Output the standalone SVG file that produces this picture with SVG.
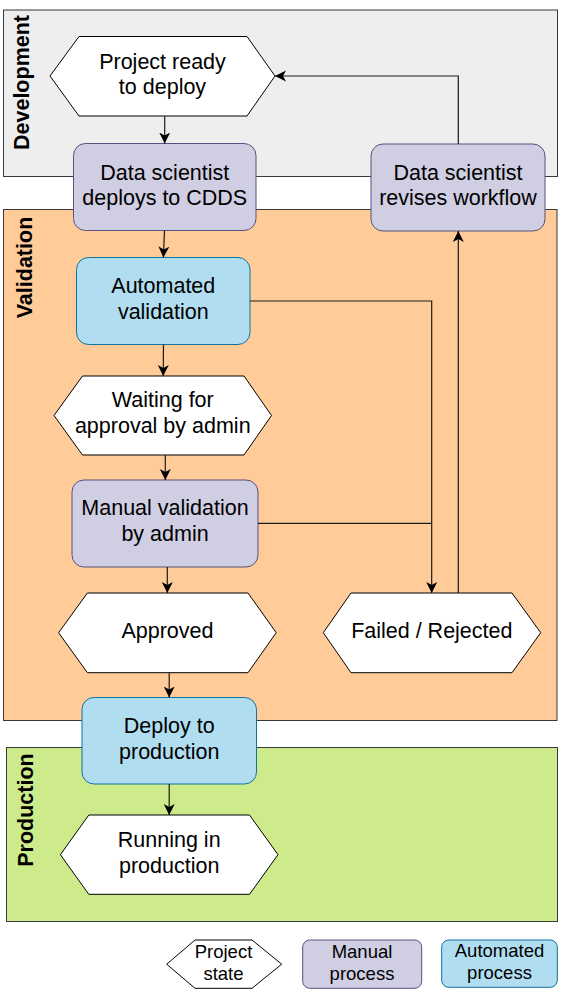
<svg xmlns="http://www.w3.org/2000/svg" width="564" height="996" viewBox="0 0 564 996">
<defs>
<style>
text{font-family:"Liberation Sans",Arial,Helvetica,sans-serif;fill:#000;text-anchor:middle}
.t{font-size:21.5px}
.lg{font-size:18.5px}
.lane{font-size:21.5px;font-weight:bold}
.hex{fill:#fff;stroke:#000;stroke-width:1}
.man{fill:#d0cee2;stroke:#56517e;stroke-width:1}
.auto{fill:#b1ddf0;stroke:#10739e;stroke-width:1}
.edge{fill:none;stroke:#1a1a1a;stroke-width:1.2}
</style>
<marker id="arr" viewBox="0 0 12 12" refX="11" refY="6" markerWidth="12" markerHeight="12" markerUnits="userSpaceOnUse" orient="auto">
<path d="M0,0.5 L11,6 L0,11.5 L3,6 Z" fill="#000"/>
</marker>
</defs>

<g id="lane-development">
<rect x="3.5" y="10" width="554" height="166.5" fill="#eeeeee" stroke="#36393d"/>
<text class="lane" transform="translate(29,82.5) rotate(-90)">Development</text>
</g>
<g id="lane-validation">
<rect x="3.5" y="209.5" width="553.5" height="511" fill="#ffcc99" stroke="#36393d"/>
<text class="lane" transform="translate(31.5,267.5) rotate(-90)">Validation</text>
</g>
<g id="lane-production">
<rect x="6.5" y="747.5" width="551" height="174" fill="#cdeb8b" stroke="#36393d"/>
<text class="lane" transform="translate(33,810) rotate(-90)">Production</text>
</g>

<g id="node-ready">
<polygon class="hex" points="50,76 79,36.5 247,36.5 275,76 247,116 79,116"/>
<text class="t" x="162.5" y="68.5">Project ready</text>
<text class="t" x="162.5" y="94">to deploy</text>
</g>
<g id="node-deploy-cdds">
<rect class="man" x="73.5" y="143.5" width="182.5" height="87" rx="12"/>
<text class="t" x="164.75" y="179.5">Data scientist</text>
<text class="t" x="164.75" y="205">deploys to CDDS</text>
</g>
<g id="node-revises">
<rect class="man" x="371" y="144" width="174" height="87" rx="12"/>
<text class="t" x="458" y="179.5">Data scientist</text>
<text class="t" x="458" y="205">revises workflow</text>
</g>
<g id="node-auto-validation">
<rect class="auto" x="76.5" y="257.5" width="173.5" height="87" rx="12"/>
<text class="t" x="163.3" y="292.8">Automated</text>
<text class="t" x="163.3" y="318.5">validation</text>
</g>
<g id="node-waiting">
<polygon class="hex" points="54,415.5 82.5,376 244,376 271.5,415.5 244,455 82.5,455"/>
<text class="t" x="162.75" y="407">Waiting for</text>
<text class="t" x="162.75" y="433">approval by admin</text>
</g>
<g id="node-manual-validation">
<rect class="man" x="72" y="480" width="186" height="87" rx="12"/>
<text class="t" x="165" y="515">Manual validation</text>
<text class="t" x="165" y="541">by admin</text>
</g>
<g id="node-approved">
<polygon class="hex" points="58.6,632.7 87.4,593 248,593 276.2,632.7 248,672.7 87.4,672.7"/>
<text class="t" x="167.4" y="637.5">Approved</text>
</g>
<g id="node-failed">
<polygon class="hex" points="323.3,632.7 351,593 512,593 540.7,632.7 512,672.7 351,672.7"/>
<text class="t" x="431.8" y="637.5">Failed / Rejected</text>
</g>
<g id="node-deploy-prod">
<rect class="auto" x="82" y="697.5" width="174.5" height="86.5" rx="12"/>
<text class="t" x="169.25" y="733">Deploy to</text>
<text class="t" x="169.25" y="759">production</text>
</g>
<g id="node-running">
<polygon class="hex" points="60.4,854.7 88.8,815 249.5,815 278,854.7 249.5,894.3 88.8,894.3"/>
<text class="t" x="169.2" y="847">Running in</text>
<text class="t" x="169.2" y="872.5">production</text>
</g>

<g id="legend-state">
<polygon class="hex" points="166.7,964.2 195,940 252,940 281.7,964.2 252,988.3 195,988.3"/>
<text class="lg" x="223.5" y="957.5">Project</text>
<text class="lg" x="223.5" y="979.5">state</text>
</g>
<g id="legend-manual">
<rect class="man" x="302.7" y="940" width="119" height="48.3" rx="7"/>
<text class="lg" x="362" y="957.5">Manual</text>
<text class="lg" x="362" y="979.5">process</text>
</g>
<g id="legend-auto">
<rect class="auto" x="441.7" y="940" width="115.6" height="47.3" rx="7"/>
<text class="lg" x="499.5" y="956.5">Automated</text>
<text class="lg" x="499.5" y="978.5">process</text>
</g>

<g id="connectors">
<path class="edge" d="M164.7,116 L164.7,143.5" marker-end="url(#arr)"/>
<path class="edge" d="M164.5,230.5 L163.4,257.5" marker-end="url(#arr)"/>
<path class="edge" d="M163.5,344.5 L163.2,376" marker-end="url(#arr)"/>
<path class="edge" d="M165.3,455 L165.3,480" marker-end="url(#arr)"/>
<path class="edge" d="M167.3,567 L167.3,593" marker-end="url(#arr)"/>
<path class="edge" d="M169.2,672.7 L169.2,697.5" marker-end="url(#arr)"/>
<path class="edge" d="M169.2,784 L169.2,815" marker-end="url(#arr)"/>
<path class="edge" d="M250,301 L431.7,301 L431.7,593" marker-end="url(#arr)"/>
<path class="edge" d="M258,523.3 L431.7,523.3"/>
<path class="edge" d="M458.3,593 L458.3,231" marker-end="url(#arr)"/>
<path class="edge" d="M458.3,144 L458.3,76 L275,76" marker-end="url(#arr)"/>
</g>
</svg>
